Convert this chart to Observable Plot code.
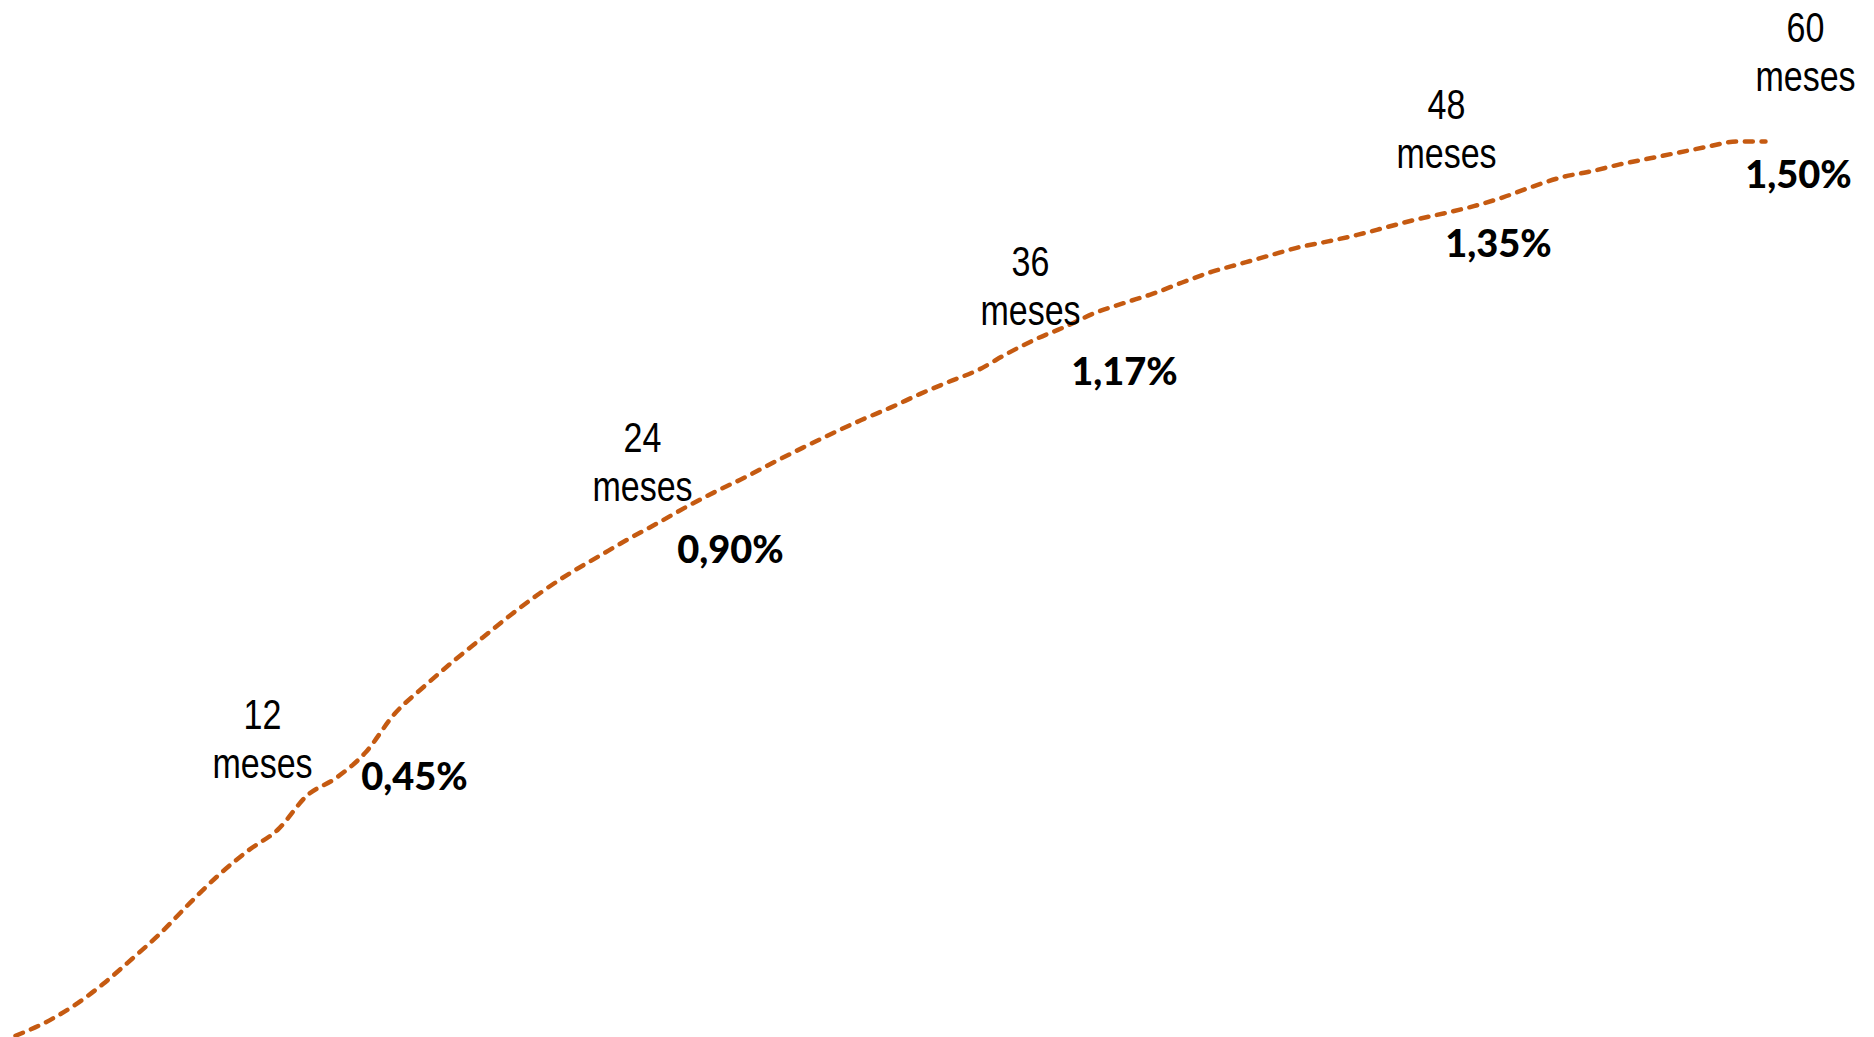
<!DOCTYPE html>
<html>
<head>
<meta charset="utf-8">
<script src="https://cdn.jsdelivr.net/npm/d3@7"></script>
<script src="https://cdn.jsdelivr.net/npm/@observablehq/plot@0.6"></script>
<style>
  html, body { margin: 0; padding: 0; background: #ffffff; }
  #chart svg { display: block; }
</style>
</head>
<body>
<div id="chart"></div>
<script>
// ---- Data ----
// cumulative rate (%) by month, months 0..60 (index = month)
const rates = [
  -0.031, -0.009, 0.020, 0.057, 0.100, 0.145, 0.196, 0.244, 0.285, 0.320, 0.378, 0.408,
  0.451,
  0.517, 0.563, 0.606, 0.646, 0.686, 0.723, 0.756, 0.785, 0.814, 0.841, 0.869,
  0.895,
  0.919, 0.945, 0.970, 0.994, 1.017, 1.038, 1.061, 1.082, 1.102, 1.130, 1.155,
  1.176,
  1.199, 1.216, 1.232, 1.251, 1.269, 1.283, 1.297, 1.311, 1.321, 1.332, 1.345,
  1.358,
  1.369, 1.381, 1.396, 1.414, 1.430, 1.440, 1.452, 1.462, 1.472, 1.482, 1.491,
  1.491
];
const labelMonths = [12, 24, 36, 48, 60];
const labelValues = [0.45, 0.90, 1.17, 1.35, 1.50];
const monthWord = "meses";

// ---- Layout (label offsets in px, relative to the labelled point) ----
const monthLabelOffsets = [[-103, 25], [-73, 12], [-35, -5], [31, -56], [40, -45]];
const valueLabelOffsets = [[49, 37], [15, 74], [59, 55], [83, 33], [33, 52]];

const series = rates.map((v, i) => ({month: i, value: v}));
const labels = labelMonths.map((m, i) => ({month: m, value: labelValues[i]}));
const fmt = v => v.toFixed(2).replace(".", ",") + "%";

const marks = [
  Plot.line(series, {
    x: "month", y: "value",
    stroke: "#C55A11", strokeWidth: 4.5, strokeLinecap: "round",
    strokeDasharray: "8,8.7", curve: "monotone-x"
  })
];
labels.forEach((d, i) => {
  marks.push(Plot.text([d], {
    x: "month", y: "value",
    text: d => `${d.month}\n${monthWord}`,
    lineAnchor: "bottom", lineHeight: 1.17, textAnchor: "middle",
    fontSize: 42, fill: "#000",
    fontFamily: "'Liberation Sans', Arial, sans-serif",
    dx: monthLabelOffsets[i][0], dy: monthLabelOffsets[i][1]
  }));
  marks.push(Plot.text([d], {
    x: "month", y: "value",
    text: d => fmt(d.value),
    lineAnchor: "bottom", textAnchor: "middle",
    fontSize: 38, fontWeight: 900, fill: "#000",
    fontFamily: "Lato, 'Open Sans', sans-serif",
    dx: valueLabelOffsets[i][0], dy: valueLabelOffsets[i][1]
  }));
});

const chart = Plot.plot({
  width: 1874, height: 1037,
  marginLeft: 15, marginRight: 109, marginTop: 0, marginBottom: 0,
  x: {domain: [0, 60], axis: null},
  y: {domain: [-0.034, 1.731], axis: null},
  style: {background: "#ffffff", overflow: "visible"},
  marks
});

// narrow (Arial Narrow–like) rendering of the month labels
d3.select(chart).selectAll("text")
  .filter(function () { return this.textContent.includes(monthWord); })
  .each(function () {
    let t = this.getAttribute("transform");
    if (!t) {
      const x = +this.getAttribute("x") || 0, y = +this.getAttribute("y") || 0;
      this.removeAttribute("x"); this.removeAttribute("y");
      t = `translate(${x},${y})`;
    }
    this.setAttribute("transform", t + " scale(0.81,1)");
  });

document.getElementById("chart").appendChild(chart);
</script>
</body>
</html>
